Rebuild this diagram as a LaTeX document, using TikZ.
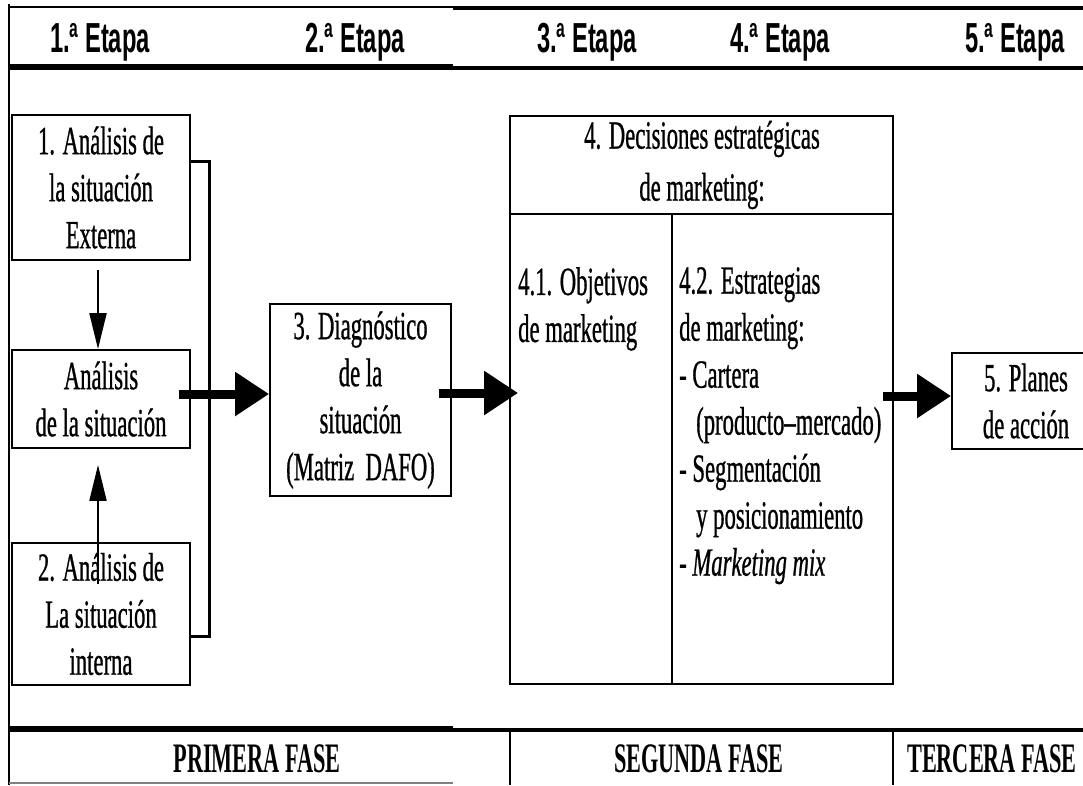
\documentclass[tikz,border=0pt]{standalone}
\usepackage{fontspec}
\setmainfont{Liberation Serif}[FakeStretch=0.567,FakeBold=0.7]
\newfontfamily\hdrfont{Liberation Sans}[FakeStretch=0.565]
\newfontfamily\ftrfont{Liberation Serif}[FakeStretch=0.53]
\usetikzlibrary{arrows.meta}
\newcommand\mybody{\fontsize{40}{47}\selectfont}
\tikzset{
  box/.style={draw, line width=1.8pt, align=center, inner sep=0pt, font=\mybody},
  coltext/.style={align=left, inner sep=0pt, anchor=north west, font=\mybody},
  hdr/.style={anchor=base, inner sep=0pt, font=\hdrfont\bfseries\fontsize{42}{48}\selectfont},
  ftr/.style={anchor=base, inner sep=0pt, font=\ftrfont\bfseries\fontsize{42}{48}\selectfont},
  thickarrow/.style={line width=9pt, -{Triangle[length=34pt,width=42pt]}},
  thinarrow/.style={line width=2pt, -{Triangle[length=36pt,width=17pt]}},
  frame/.style={line width=2.5pt}
}
\begin{document}
\begin{tikzpicture}[x=1pt,y=-1pt]
\useasboundingbox (0,0) rectangle (1083,785);
\clip (0,0) rectangle (1083,785);
% frame
\draw[frame] (9,4) -- (9,785);
\draw[line width=2.5pt] (9,7) -- (453,7);
\draw[line width=4pt] (453,8) -- (1083,8);
\draw[line width=6pt] (9,67) -- (453,67);
\draw[line width=4pt] (453,68) -- (1083,68);
\draw[line width=6pt] (9,729) -- (453,729);
\draw[line width=4pt] (453,730) -- (1083,730);
\draw[line width=1.5pt, gray] (9,783) -- (453,783);
\draw[line width=2pt] (510,730) -- (510,785);
\draw[line width=2pt] (893,730) -- (893,785);
% header
\node[hdr] (e1) at (100,52) {1.ª Etapa};
\node[hdr] (e2) at (355,52) {2.ª Etapa};
\node[hdr] (e3) at (587,52) {3.ª Etapa};
\node[hdr] (e4) at (780,52) {4.ª Etapa};
\node[hdr] (e5) at (1015,52) {5.ª Etapa};
% footer
\node[ftr] (f1) at (257,772) {PRIMERA FASE};
\node[ftr] (f2) at (699,772) {SEGUNDA FASE};
\node[ftr] (f3) at (992,772) {TERCERA FASE};
% boxes
\node[box, minimum width=178pt, minimum height=145pt] (box1) at (101,187.5) {1. Análisis de\\la situación\\Externa};
\node[box, minimum width=178pt, minimum height=98pt] (mid) at (101,399) {Análisis\\de la situación};
\node[box, minimum width=178pt, minimum height=142pt] (box2) at (101,614) {2. Análisis de\\La situación\\interna};
\node[box, minimum width=181pt, minimum height=192pt] (box3) at (360.5,400) {3. Diagnóstico\\de la\\situación\\(Matriz\ \ DAFO)};
\node[box, minimum width=383pt, minimum height=568pt] (box4) at (701.5,400) {};
\node[box, minimum width=148pt, minimum height=96pt] (box5) at (1026,401) {5. Planes\\de acción};
% box 4 inner
\coordinate (hdiv) at (510,214);
\coordinate (vdiv) at (672,214);
\draw[line width=1.8pt] (hdiv -| box4.west) -- (hdiv -| box4.east);
\draw[line width=1.8pt] (vdiv) -- (vdiv |- box4.south);
\node[align=center, inner sep=0pt, font=\mybody] (title4) at (702,165) {4. Decisiones estratégicas\\[5pt]de marketing:};
\node[coltext] (c41) at (518,267) {4.1. Objetivos\\de marketing};
\node[coltext] (c42) at (679,267) {4.2. Estrategias\\de marketing:\\- Cartera\\\hspace*{17pt}(producto–mercado)\\- Segmentación\\\hspace*{17pt}y posicionamiento\\- \textit{Marketing mix}};
% connectors
\draw[thinarrow] ([xshift=-3pt,yshift=-9pt]box1.south) -- ([xshift=-3pt]mid.north);
\draw[thinarrow] ([xshift=-3pt,yshift=-42pt]box2.north) -- ([xshift=-3pt,yshift=-16pt]mid.south);
\draw[line width=3pt] ([yshift=-47pt]box1.north east) -- ++(19,0) |- ([yshift=-94pt]box2.north east);
\draw[thickarrow] ([xshift=-12pt,yshift=5pt]mid.east) -- ([yshift=5pt]mid.east -| box3.west);
\draw[thickarrow] ([xshift=-13pt,yshift=7pt]box3.east) -- ([xshift=9pt,yshift=7pt]box3.east -| box4.west);
\draw[thickarrow] ([xshift=-11pt,yshift=4pt]box4.east) -- ([yshift=4pt]box4.east -| box5.west);
\end{tikzpicture}
\end{document}
